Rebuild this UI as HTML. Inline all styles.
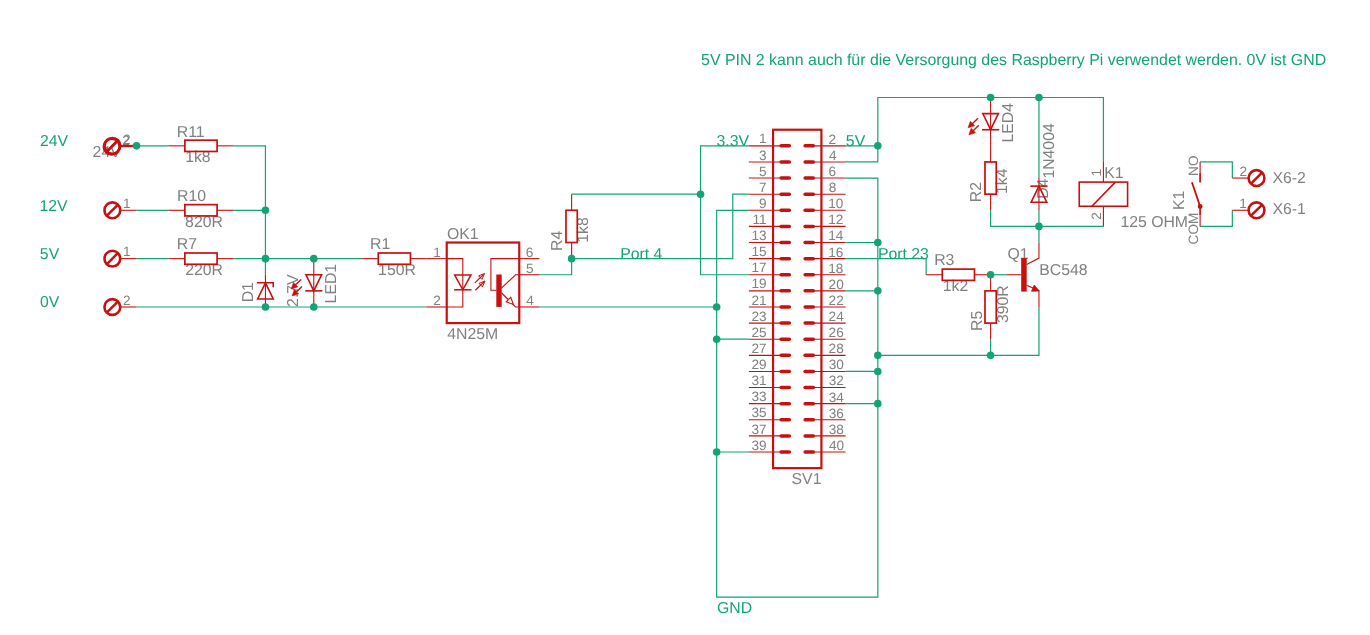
<!DOCTYPE html>
<html><head><meta charset="utf-8"><style>
html,body{margin:0;padding:0;background:#fff;width:1370px;height:635px;overflow:hidden}
text{text-rendering:geometricPrecision}
svg{will-change:transform}
svg{display:block;font-family:"Liberation Sans",sans-serif}
</style></head><body>
<svg width="1370" height="635" viewBox="0 0 1370 635">
<rect width="1370" height="635" fill="#fff"/>
<text x="122.92" y="143.8" font-size="13.6" fill="#808080">2</text>
<text x="122.32" y="144.6" font-size="13.6" fill="#808080">2</text>
<text x="123.06" y="208.1" font-size="13.6" fill="#808080">1</text>
<text x="123.06" y="256.3" font-size="13.6" fill="#808080">1</text>
<text x="122.92" y="304.6" font-size="13.6" fill="#808080">2</text>
<text x="1239.62" y="175.8" font-size="13.6" fill="#808080">2</text>
<text x="1239.26" y="207.9" font-size="13.6" fill="#808080">1</text>
<text x="176.8" y="136.5" font-size="15.8" fill="#808080">R11</text>
<text x="185.2" y="162" font-size="15.8" fill="#808080">1k8</text>
<text x="177" y="201.3" font-size="15.8" fill="#808080">R10</text>
<text x="185.11" y="226.9" font-size="15.8" fill="#808080">820R</text>
<text x="176.8" y="249.1" font-size="15.8" fill="#808080">R7</text>
<text x="185.21" y="274.8" font-size="15.8" fill="#808080">220R</text>
<text x="370.1" y="249.1" font-size="15.8" fill="#808080">R1</text>
<text x="378.1" y="274.6" font-size="15.8" fill="#808080">150R</text>
<text x="934.2" y="265.1" font-size="15.8" fill="#808080">R3</text>
<text x="942.8" y="290.6" font-size="15.8" fill="#808080">1k2</text>
<text x="562.2" y="250.9" font-size="15.8" fill="#808080" transform="rotate(-90 562.2 250.9)">R4</text>
<text x="588" y="242.7" font-size="15.8" fill="#808080" transform="rotate(-90 588 242.7)">1k8</text>
<text x="981.5" y="202.2" font-size="15.8" fill="#808080" transform="rotate(-90 981.5 202.2)">R2</text>
<text x="1007.3" y="194" font-size="15.8" fill="#808080" transform="rotate(-90 1007.3 194)">1k4</text>
<text x="981.7" y="330.9" font-size="15.8" fill="#808080" transform="rotate(-90 981.7 330.9)">R5</text>
<text x="1007.6" y="323" font-size="15.8" fill="#808080" transform="rotate(-90 1007.6 323)">390R</text>
<text x="253.5" y="302.3" font-size="15.8" fill="#808080" transform="rotate(-90 253.5 302.3)">D1</text>
<text x="297.7" y="306.89" font-size="15.8" fill="#808080" transform="rotate(-90 297.7 306.89)">2.7V</text>
<text x="336" y="303.4" font-size="15.8" fill="#808080" transform="rotate(-90 336 303.4)">LED1</text>
<text x="1013.5" y="142.6" font-size="15.8" fill="#808080" transform="rotate(-90 1013.5 142.6)">LED4</text>
<text x="1047.7" y="198.8" font-size="15.8" fill="#808080" transform="rotate(-90 1047.7 198.8)">D4</text>
<text x="1054.2" y="178.6" font-size="15.8" fill="#808080" transform="rotate(-90 1054.2 178.6)">1N4004</text>
<text x="446.95" y="238.9" font-size="15.8" fill="#808080">OK1</text>
<text x="447.34" y="339.3" font-size="15.8" fill="#808080">4N25M</text>
<text x="433.36" y="256.8" font-size="13.6" fill="#808080">1</text>
<text x="433.22" y="305" font-size="13.6" fill="#808080">2</text>
<text x="525.81" y="256.5" font-size="13.6" fill="#808080">6</text>
<text x="525.96" y="272.6" font-size="13.6" fill="#808080">5</text>
<text x="526.19" y="304.9" font-size="13.6" fill="#808080">4</text>
<text x="766.5" y="143.44" font-size="13.6" fill="#808080" text-anchor="end">1</text>
<text x="828.62" y="143.74" font-size="13.6" fill="#808080">2</text>
<text x="766.5" y="159.55" font-size="13.6" fill="#808080" text-anchor="end">3</text>
<text x="828.99" y="159.85" font-size="13.6" fill="#808080">4</text>
<text x="766.5" y="175.66" font-size="13.6" fill="#808080" text-anchor="end">5</text>
<text x="828.61" y="175.97" font-size="13.6" fill="#808080">6</text>
<text x="766.5" y="191.78" font-size="13.6" fill="#808080" text-anchor="end">7</text>
<text x="828.71" y="192.08" font-size="13.6" fill="#808080">8</text>
<text x="766.5" y="207.89" font-size="13.6" fill="#808080" text-anchor="end">9</text>
<text x="828.26" y="208.19" font-size="13.6" fill="#808080">10</text>
<text x="766.5" y="224.01" font-size="13.6" fill="#808080" text-anchor="end">11</text>
<text x="828.26" y="224.31" font-size="13.6" fill="#808080">12</text>
<text x="766.5" y="240.12" font-size="13.6" fill="#808080" text-anchor="end">13</text>
<text x="828.26" y="240.42" font-size="13.6" fill="#808080">14</text>
<text x="766.5" y="256.24" font-size="13.6" fill="#808080" text-anchor="end">15</text>
<text x="828.26" y="256.54" font-size="13.6" fill="#808080">16</text>
<text x="766.5" y="272.36" font-size="13.6" fill="#808080" text-anchor="end">17</text>
<text x="828.26" y="272.66" font-size="13.6" fill="#808080">18</text>
<text x="766.5" y="288.47" font-size="13.6" fill="#808080" text-anchor="end">19</text>
<text x="828.62" y="288.77" font-size="13.6" fill="#808080">20</text>
<text x="766.5" y="304.58" font-size="13.6" fill="#808080" text-anchor="end">21</text>
<text x="828.62" y="304.88" font-size="13.6" fill="#808080">22</text>
<text x="766.5" y="320.7" font-size="13.6" fill="#808080" text-anchor="end">23</text>
<text x="828.62" y="321" font-size="13.6" fill="#808080">24</text>
<text x="766.5" y="336.81" font-size="13.6" fill="#808080" text-anchor="end">25</text>
<text x="828.62" y="337.12" font-size="13.6" fill="#808080">26</text>
<text x="766.5" y="352.93" font-size="13.6" fill="#808080" text-anchor="end">27</text>
<text x="828.62" y="353.23" font-size="13.6" fill="#808080">28</text>
<text x="766.5" y="369.05" font-size="13.6" fill="#808080" text-anchor="end">29</text>
<text x="828.78" y="369.35" font-size="13.6" fill="#808080">30</text>
<text x="766.5" y="385.16" font-size="13.6" fill="#808080" text-anchor="end">31</text>
<text x="828.78" y="385.46" font-size="13.6" fill="#808080">32</text>
<text x="766.5" y="401.27" font-size="13.6" fill="#808080" text-anchor="end">33</text>
<text x="828.78" y="401.57" font-size="13.6" fill="#808080">34</text>
<text x="766.5" y="417.39" font-size="13.6" fill="#808080" text-anchor="end">35</text>
<text x="828.78" y="417.69" font-size="13.6" fill="#808080">36</text>
<text x="766.5" y="433.5" font-size="13.6" fill="#808080" text-anchor="end">37</text>
<text x="828.78" y="433.81" font-size="13.6" fill="#808080">38</text>
<text x="766.5" y="449.62" font-size="13.6" fill="#808080" text-anchor="end">39</text>
<text x="828.99" y="449.92" font-size="13.6" fill="#808080">40</text>
<text x="791.58" y="484.2" font-size="15.8" fill="#808080">SV1</text>
<text x="1007.55" y="259.3" font-size="15.8" fill="#808080">Q1</text>
<text x="1039.3" y="274.7" font-size="15.8" fill="#808080">BC548</text>
<text x="1104.2" y="178.1" font-size="15.8" fill="#808080">K1</text>
<text x="1120.4" y="226.9" font-size="15.8" fill="#808080">125 OHM</text>
<text x="1101.5" y="176.44" font-size="13.6" fill="#808080" transform="rotate(-90 1101.5 176.44)">1</text>
<text x="1101.5" y="219.68" font-size="13.6" fill="#808080" transform="rotate(-90 1101.5 219.68)">2</text>
<text x="1184.1" y="210.1" font-size="15.8" fill="#808080" transform="rotate(-90 1184.1 210.1)">K1</text>
<text x="1198.3" y="175.92" font-size="13.6" fill="#808080" transform="rotate(-90 1198.3 175.92)">NO</text>
<text x="1198.3" y="244.39" font-size="13.6" fill="#808080" transform="rotate(-90 1198.3 244.39)">COM</text>
<text x="1272.45" y="182.5" font-size="15.8" fill="#808080">X6-2</text>
<text x="1272.45" y="214.3" font-size="15.8" fill="#808080">X6-1</text>
<text x="39.91" y="145.9" font-size="15.8" fill="#12a571">24V</text>
<text x="39.5" y="210.7" font-size="15.8" fill="#12a571">12V</text>
<text x="39.87" y="258.8" font-size="15.8" fill="#12a571">5V</text>
<text x="40.08" y="306.9" font-size="15.8" fill="#12a571">0V</text>
<text x="92.61" y="157.1" font-size="15.8" fill="#808080">24V</text>
<text x="716.5" y="145.5" font-size="15.8" fill="#12a571">3.3V</text>
<text x="845.87" y="146" font-size="15.8" fill="#12a571">5V</text>
<text x="620.2" y="258.9" font-size="15.8" fill="#12a571">Port 4</text>
<text x="877.9" y="259.1" font-size="15.8" fill="#12a571">Port 23</text>
<text x="717.01" y="613.2" font-size="15.8" fill="#12a571">GND</text>
<text x="701.06" y="65.4" font-size="15.92" fill="#12a571">5V PIN 2 kann auch für die Versorgung des Raspberry Pi verwendet werden. 0V ist GND</text>
<polyline points="136.52,145.84 168.75,145.84" stroke="#12a571" stroke-width="1.2" fill="none" stroke-linejoin="miter"/>
<polyline points="233.21,145.84 265.44,145.84 265.44,274.75" stroke="#12a571" stroke-width="1.2" fill="none" stroke-linejoin="miter"/>
<polyline points="136.52,210.29 168.75,210.29" stroke="#12a571" stroke-width="1.2" fill="none" stroke-linejoin="miter"/>
<polyline points="233.21,210.29 265.44,210.29" stroke="#12a571" stroke-width="1.2" fill="none" stroke-linejoin="miter"/>
<polyline points="136.52,258.64 168.75,258.64" stroke="#12a571" stroke-width="1.2" fill="none" stroke-linejoin="miter"/>
<polyline points="233.21,258.64 362.13,258.64" stroke="#12a571" stroke-width="1.2" fill="none" stroke-linejoin="miter"/>
<polyline points="136.52,306.98 426.59,306.98" stroke="#12a571" stroke-width="1.2" fill="none" stroke-linejoin="miter"/>
<polyline points="539.39,274.75 571.62,274.75 571.62,258.64" stroke="#12a571" stroke-width="1.2" fill="none" stroke-linejoin="miter"/>
<polyline points="571.62,258.64 732.77,258.64 732.77,194.18 748.89,194.18" stroke="#12a571" stroke-width="1.2" fill="none" stroke-linejoin="miter"/>
<polyline points="571.62,194.18 700.54,194.18" stroke="#12a571" stroke-width="1.2" fill="none" stroke-linejoin="miter"/>
<polyline points="748.89,145.84 700.54,145.84 700.54,274.75 748.89,274.75" stroke="#12a571" stroke-width="1.2" fill="none" stroke-linejoin="miter"/>
<polyline points="748.89,210.29 716.66,210.29 716.66,597.05 877.81,597.05 877.81,178.06 845.58,178.06" stroke="#12a571" stroke-width="1.2" fill="none" stroke-linejoin="miter"/>
<polyline points="539.39,306.98 716.66,306.98" stroke="#12a571" stroke-width="1.2" fill="none" stroke-linejoin="miter"/>
<polyline points="716.66,339.21 748.89,339.21" stroke="#12a571" stroke-width="1.2" fill="none" stroke-linejoin="miter"/>
<polyline points="716.66,452.02 748.89,452.02" stroke="#12a571" stroke-width="1.2" fill="none" stroke-linejoin="miter"/>
<polyline points="845.58,145.84 877.81,145.84" stroke="#12a571" stroke-width="1.2" fill="none" stroke-linejoin="miter"/>
<polyline points="845.58,161.95 877.81,161.95 877.81,97.49 1103.42,97.49 1103.42,161.95" stroke="#12a571" stroke-width="1.2" fill="none" stroke-linejoin="miter"/>
<polyline points="845.58,242.52 877.81,242.52" stroke="#12a571" stroke-width="1.2" fill="none" stroke-linejoin="miter"/>
<polyline points="845.58,290.87 877.81,290.87" stroke="#12a571" stroke-width="1.2" fill="none" stroke-linejoin="miter"/>
<polyline points="845.58,371.44 877.81,371.44" stroke="#12a571" stroke-width="1.2" fill="none" stroke-linejoin="miter"/>
<polyline points="845.58,403.67 877.81,403.67" stroke="#12a571" stroke-width="1.2" fill="none" stroke-linejoin="miter"/>
<polyline points="877.81,355.33 1038.96,355.33 1038.96,306.98" stroke="#12a571" stroke-width="1.2" fill="none" stroke-linejoin="miter"/>
<polyline points="990.61,339.21 990.61,355.33" stroke="#12a571" stroke-width="1.2" fill="none" stroke-linejoin="miter"/>
<polyline points="845.58,258.64 926.15,258.64 926.15,274.75" stroke="#12a571" stroke-width="1.2" fill="none" stroke-linejoin="miter"/>
<polyline points="990.61,274.75 1006.73,274.75" stroke="#12a571" stroke-width="1.2" fill="none" stroke-linejoin="miter"/>
<polyline points="1038.96,242.52 1038.96,210.29" stroke="#12a571" stroke-width="1.2" fill="none" stroke-linejoin="miter"/>
<polyline points="990.61,210.29 990.61,226.41 1103.42,226.41" stroke="#12a571" stroke-width="1.2" fill="none" stroke-linejoin="miter"/>
<polyline points="1038.96,97.49 1038.96,178.06" stroke="#12a571" stroke-width="1.2" fill="none" stroke-linejoin="miter"/>
<polyline points="1200.11,161.95 1232.34,161.95 1232.34,178.06" stroke="#12a571" stroke-width="1.2" fill="none" stroke-linejoin="miter"/>
<polyline points="1200.11,226.41 1232.34,226.41 1232.34,210.29" stroke="#12a571" stroke-width="1.2" fill="none" stroke-linejoin="miter"/>
<line x1="120.25" y1="145.84" x2="136.52" y2="145.84" stroke="#c81010" stroke-width="2.0" stroke-linecap="butt"/>
<circle cx="112.35" cy="145.84" r="7.9" fill="none" stroke="#c81010" stroke-width="2.6"/>
<line x1="107.15" y1="151.03" x2="117.55" y2="140.64" stroke="#c81010" stroke-width="2.5" stroke-linecap="butt"/>
<line x1="119.65" y1="146.64" x2="136.52" y2="146.64" stroke="#c81010" stroke-width="1.1" stroke-linecap="butt"/>
<circle cx="111.75" cy="146.64" r="7.9" fill="none" stroke="#c81010" stroke-width="2.6"/>
<line x1="106.55" y1="151.84" x2="116.95" y2="141.44" stroke="#c81010" stroke-width="2.5" stroke-linecap="butt"/>
<line x1="120.25" y1="210.29" x2="136.52" y2="210.29" stroke="#c81010" stroke-width="1.1" stroke-linecap="butt"/>
<circle cx="112.35" cy="210.29" r="7.9" fill="none" stroke="#c81010" stroke-width="2.6"/>
<line x1="107.15" y1="215.49" x2="117.55" y2="205.09" stroke="#c81010" stroke-width="2.5" stroke-linecap="butt"/>
<line x1="120.25" y1="258.64" x2="136.52" y2="258.64" stroke="#c81010" stroke-width="1.1" stroke-linecap="butt"/>
<circle cx="112.35" cy="258.64" r="7.9" fill="none" stroke="#c81010" stroke-width="2.6"/>
<line x1="107.15" y1="263.84" x2="117.55" y2="253.44" stroke="#c81010" stroke-width="2.5" stroke-linecap="butt"/>
<line x1="120.25" y1="306.98" x2="136.52" y2="306.98" stroke="#c81010" stroke-width="1.1" stroke-linecap="butt"/>
<circle cx="112.35" cy="306.98" r="7.9" fill="none" stroke="#c81010" stroke-width="2.6"/>
<line x1="107.15" y1="312.18" x2="117.55" y2="301.78" stroke="#c81010" stroke-width="2.5" stroke-linecap="butt"/>
<line x1="1232.34" y1="178.06" x2="1248.61" y2="178.06" stroke="#c81010" stroke-width="1.1" stroke-linecap="butt"/>
<circle cx="1256.51" cy="178.06" r="7.9" fill="none" stroke="#c81010" stroke-width="2.6"/>
<line x1="1251.31" y1="183.26" x2="1261.71" y2="172.87" stroke="#c81010" stroke-width="2.5" stroke-linecap="butt"/>
<line x1="1232.34" y1="210.29" x2="1248.61" y2="210.29" stroke="#c81010" stroke-width="1.1" stroke-linecap="butt"/>
<circle cx="1256.51" cy="210.29" r="7.9" fill="none" stroke="#c81010" stroke-width="2.6"/>
<line x1="1251.31" y1="215.49" x2="1261.71" y2="205.09" stroke="#c81010" stroke-width="2.5" stroke-linecap="butt"/>
<line x1="168.75" y1="145.84" x2="184.86" y2="145.84" stroke="#c81010" stroke-width="1.1" stroke-linecap="butt"/>
<line x1="217.09" y1="145.84" x2="233.21" y2="145.84" stroke="#c81010" stroke-width="1.1" stroke-linecap="butt"/>
<rect x="184.86" y="140.19" width="32.23" height="11.28" fill="none" stroke="#c81010" stroke-width="1.7"/>
<line x1="168.75" y1="210.29" x2="184.86" y2="210.29" stroke="#c81010" stroke-width="1.1" stroke-linecap="butt"/>
<line x1="217.09" y1="210.29" x2="233.21" y2="210.29" stroke="#c81010" stroke-width="1.1" stroke-linecap="butt"/>
<rect x="184.86" y="204.65" width="32.23" height="11.28" fill="none" stroke="#c81010" stroke-width="1.7"/>
<line x1="168.75" y1="258.64" x2="184.86" y2="258.64" stroke="#c81010" stroke-width="1.1" stroke-linecap="butt"/>
<line x1="217.09" y1="258.64" x2="233.21" y2="258.64" stroke="#c81010" stroke-width="1.1" stroke-linecap="butt"/>
<rect x="184.86" y="253" width="32.23" height="11.28" fill="none" stroke="#c81010" stroke-width="1.7"/>
<line x1="362.13" y1="258.64" x2="378.25" y2="258.64" stroke="#c81010" stroke-width="1.1" stroke-linecap="butt"/>
<line x1="410.47" y1="258.64" x2="426.59" y2="258.64" stroke="#c81010" stroke-width="1.1" stroke-linecap="butt"/>
<rect x="378.25" y="253" width="32.23" height="11.28" fill="none" stroke="#c81010" stroke-width="1.7"/>
<line x1="926.15" y1="274.75" x2="942.27" y2="274.75" stroke="#c81010" stroke-width="1.1" stroke-linecap="butt"/>
<line x1="974.5" y1="274.75" x2="990.61" y2="274.75" stroke="#c81010" stroke-width="1.1" stroke-linecap="butt"/>
<rect x="942.27" y="269.11" width="32.23" height="11.28" fill="none" stroke="#c81010" stroke-width="1.7"/>
<line x1="571.62" y1="194.18" x2="571.62" y2="210.29" stroke="#c81010" stroke-width="1.1" stroke-linecap="butt"/>
<line x1="571.62" y1="242.52" x2="571.62" y2="258.64" stroke="#c81010" stroke-width="1.1" stroke-linecap="butt"/>
<rect x="565.98" y="210.29" width="11.28" height="32.23" fill="none" stroke="#c81010" stroke-width="1.7"/>
<line x1="990.61" y1="145.84" x2="990.61" y2="161.95" stroke="#c81010" stroke-width="1.1" stroke-linecap="butt"/>
<line x1="990.61" y1="194.18" x2="990.61" y2="210.29" stroke="#c81010" stroke-width="1.1" stroke-linecap="butt"/>
<rect x="984.97" y="161.95" width="11.28" height="32.23" fill="none" stroke="#c81010" stroke-width="1.7"/>
<line x1="990.61" y1="274.75" x2="990.61" y2="290.87" stroke="#c81010" stroke-width="1.1" stroke-linecap="butt"/>
<line x1="990.61" y1="323.1" x2="990.61" y2="339.21" stroke="#c81010" stroke-width="1.1" stroke-linecap="butt"/>
<rect x="984.97" y="290.87" width="11.28" height="32.23" fill="none" stroke="#c81010" stroke-width="1.7"/>
<line x1="265.44" y1="274.75" x2="265.44" y2="306.98" stroke="#c81010" stroke-width="1.1" stroke-linecap="butt"/>
<polygon points="257.64,298.93 273.24,298.93 265.44,282.81" stroke="#c81010" stroke-width="1.6" fill="none" stroke-linejoin="miter"/>
<polyline points="256.84,282.81 273.24,282.81 273.24,287.31" stroke="#c81010" stroke-width="1.6" fill="none" stroke-linejoin="miter"/>
<line x1="313.78" y1="258.64" x2="313.78" y2="306.98" stroke="#c81010" stroke-width="1.1" stroke-linecap="butt"/>
<polygon points="305.98,274.75 321.58,274.75 313.78,290.87" stroke="#c81010" stroke-width="1.6" fill="none" stroke-linejoin="miter"/>
<line x1="305.18" y1="290.87" x2="322.38" y2="290.87" stroke="#c81010" stroke-width="1.6" stroke-linecap="butt"/>
<line x1="301.18" y1="279.41" x2="294.95" y2="285.33" stroke="#c81010" stroke-width="1.4" stroke-linecap="butt"/>
<polygon points="291.18,288.91 293.54,282.39 297.82,286.89" stroke="#c81010" stroke-width="0.6" fill="#c81010" stroke-linejoin="miter"/>
<line x1="301.98" y1="286.41" x2="295.82" y2="292.39" stroke="#c81010" stroke-width="1.4" stroke-linecap="butt"/>
<polygon points="292.08,296.01 294.38,289.47 298.69,293.92" stroke="#c81010" stroke-width="0.6" fill="#c81010" stroke-linejoin="miter"/>
<line x1="990.61" y1="97.49" x2="990.61" y2="145.84" stroke="#c81010" stroke-width="1.1" stroke-linecap="butt"/>
<polygon points="982.81,113.6 998.41,113.6 990.61,129.72" stroke="#c81010" stroke-width="1.6" fill="none" stroke-linejoin="miter"/>
<line x1="982.01" y1="129.72" x2="999.21" y2="129.72" stroke="#c81010" stroke-width="1.6" stroke-linecap="butt"/>
<line x1="978.01" y1="118.26" x2="971.78" y2="124.18" stroke="#c81010" stroke-width="1.4" stroke-linecap="butt"/>
<polygon points="968.01,127.76 970.37,121.24 974.65,125.74" stroke="#c81010" stroke-width="0.6" fill="#c81010" stroke-linejoin="miter"/>
<line x1="978.81" y1="125.26" x2="972.65" y2="131.24" stroke="#c81010" stroke-width="1.4" stroke-linecap="butt"/>
<polygon points="968.91,134.86 971.21,128.32 975.52,132.77" stroke="#c81010" stroke-width="0.6" fill="#c81010" stroke-linejoin="miter"/>
<line x1="1038.96" y1="178.06" x2="1038.96" y2="210.29" stroke="#c81010" stroke-width="1.1" stroke-linecap="butt"/>
<polygon points="1031.16,202.24 1046.76,202.24 1038.96,186.12" stroke="#c81010" stroke-width="1.6" fill="none" stroke-linejoin="miter"/>
<line x1="1030.36" y1="186.12" x2="1047.56" y2="186.12" stroke="#c81010" stroke-width="1.6" stroke-linecap="butt"/>
<line x1="426.59" y1="258.64" x2="446.73" y2="258.64" stroke="#c81010" stroke-width="1.1" stroke-linecap="butt"/>
<line x1="426.59" y1="306.98" x2="446.73" y2="306.98" stroke="#c81010" stroke-width="1.1" stroke-linecap="butt"/>
<line x1="519.25" y1="258.64" x2="539.39" y2="258.64" stroke="#c81010" stroke-width="1.1" stroke-linecap="butt"/>
<line x1="519.25" y1="274.75" x2="539.39" y2="274.75" stroke="#c81010" stroke-width="1.1" stroke-linecap="butt"/>
<line x1="519.25" y1="306.98" x2="539.39" y2="306.98" stroke="#c81010" stroke-width="1.1" stroke-linecap="butt"/>
<rect x="446.73" y="242.52" width="72.52" height="80.57" fill="none" stroke="#c81010" stroke-width="2.2"/>
<polyline points="446.73,258.64 462.8,258.64 462.8,306.98 446.73,306.98" stroke="#c81010" stroke-width="1.1" fill="none" stroke-linejoin="miter"/>
<polygon points="454.6,274.9 471,274.9 462.8,289.8" stroke="#c81010" stroke-width="1.5" fill="none" stroke-linejoin="miter"/>
<line x1="454.1" y1="289.8" x2="471.5" y2="289.8" stroke="#c81010" stroke-width="1.5" stroke-linecap="butt"/>
<line x1="474.9" y1="282.9" x2="483.53" y2="274.45" stroke="#c81010" stroke-width="1.2" stroke-linecap="butt"/>
<polygon points="484.6,273.4 481.99,279.31 478.63,275.88" stroke="#c81010" stroke-width="1.0" fill="none" stroke-linejoin="miter"/>
<line x1="475.3" y1="290.3" x2="483.92" y2="282.04" stroke="#c81010" stroke-width="1.2" stroke-linecap="butt"/>
<polygon points="485,281 482.33,286.88 479.01,283.42" stroke="#c81010" stroke-width="1.0" fill="none" stroke-linejoin="miter"/>
<rect x="496.3" y="274.5" width="5.4" height="32.4" fill="#c81010"/>
<polyline points="519.25,258.64 490.9,258.64 490.9,290.3 496.3,290.3" stroke="#c81010" stroke-width="1.1" fill="none" stroke-linejoin="miter"/>
<polyline points="501.7,287.9 515.6,274.75 519.25,274.75" stroke="#c81010" stroke-width="1.1" fill="none" stroke-linejoin="miter"/>
<polyline points="501.7,293 515.6,306.98 519.25,306.98" stroke="#c81010" stroke-width="1.1" fill="none" stroke-linejoin="miter"/>
<polygon points="513.4,304.5 506.2,301.79 510.73,297.28" stroke="#c81010" stroke-width="1.1" fill="#fff" stroke-linejoin="miter"/>
<line x1="748.89" y1="145.84" x2="781.48" y2="145.84" stroke="#c81010" stroke-width="1.1" stroke-linecap="butt"/>
<line x1="812.98" y1="145.84" x2="845.58" y2="145.84" stroke="#c81010" stroke-width="1.1" stroke-linecap="butt"/>
<line x1="781.13" y1="145.84" x2="789.33" y2="145.84" stroke="#c81010" stroke-width="3.5" stroke-linecap="round"/>
<line x1="805.13" y1="145.84" x2="813.33" y2="145.84" stroke="#c81010" stroke-width="3.5" stroke-linecap="round"/>
<line x1="748.89" y1="161.95" x2="781.48" y2="161.95" stroke="#c81010" stroke-width="1.1" stroke-linecap="butt"/>
<line x1="812.98" y1="161.95" x2="845.58" y2="161.95" stroke="#c81010" stroke-width="1.1" stroke-linecap="butt"/>
<line x1="781.13" y1="161.95" x2="789.33" y2="161.95" stroke="#c81010" stroke-width="3.5" stroke-linecap="round"/>
<line x1="805.13" y1="161.95" x2="813.33" y2="161.95" stroke="#c81010" stroke-width="3.5" stroke-linecap="round"/>
<line x1="748.89" y1="178.06" x2="781.48" y2="178.06" stroke="#c81010" stroke-width="1.1" stroke-linecap="butt"/>
<line x1="812.98" y1="178.06" x2="845.58" y2="178.06" stroke="#c81010" stroke-width="1.1" stroke-linecap="butt"/>
<line x1="781.13" y1="178.06" x2="789.33" y2="178.06" stroke="#c81010" stroke-width="3.5" stroke-linecap="round"/>
<line x1="805.13" y1="178.06" x2="813.33" y2="178.06" stroke="#c81010" stroke-width="3.5" stroke-linecap="round"/>
<line x1="748.89" y1="194.18" x2="781.48" y2="194.18" stroke="#c81010" stroke-width="1.1" stroke-linecap="butt"/>
<line x1="812.98" y1="194.18" x2="845.58" y2="194.18" stroke="#c81010" stroke-width="1.1" stroke-linecap="butt"/>
<line x1="781.13" y1="194.18" x2="789.33" y2="194.18" stroke="#c81010" stroke-width="3.5" stroke-linecap="round"/>
<line x1="805.13" y1="194.18" x2="813.33" y2="194.18" stroke="#c81010" stroke-width="3.5" stroke-linecap="round"/>
<line x1="748.89" y1="210.29" x2="781.48" y2="210.29" stroke="#c81010" stroke-width="1.1" stroke-linecap="butt"/>
<line x1="812.98" y1="210.29" x2="845.58" y2="210.29" stroke="#c81010" stroke-width="1.1" stroke-linecap="butt"/>
<line x1="781.13" y1="210.29" x2="789.33" y2="210.29" stroke="#c81010" stroke-width="3.5" stroke-linecap="round"/>
<line x1="805.13" y1="210.29" x2="813.33" y2="210.29" stroke="#c81010" stroke-width="3.5" stroke-linecap="round"/>
<line x1="748.89" y1="226.41" x2="781.48" y2="226.41" stroke="#c81010" stroke-width="1.1" stroke-linecap="butt"/>
<line x1="812.98" y1="226.41" x2="845.58" y2="226.41" stroke="#c81010" stroke-width="1.1" stroke-linecap="butt"/>
<line x1="781.13" y1="226.41" x2="789.33" y2="226.41" stroke="#c81010" stroke-width="3.5" stroke-linecap="round"/>
<line x1="805.13" y1="226.41" x2="813.33" y2="226.41" stroke="#c81010" stroke-width="3.5" stroke-linecap="round"/>
<line x1="748.89" y1="242.52" x2="781.48" y2="242.52" stroke="#c81010" stroke-width="1.1" stroke-linecap="butt"/>
<line x1="812.98" y1="242.52" x2="845.58" y2="242.52" stroke="#c81010" stroke-width="1.1" stroke-linecap="butt"/>
<line x1="781.13" y1="242.52" x2="789.33" y2="242.52" stroke="#c81010" stroke-width="3.5" stroke-linecap="round"/>
<line x1="805.13" y1="242.52" x2="813.33" y2="242.52" stroke="#c81010" stroke-width="3.5" stroke-linecap="round"/>
<line x1="748.89" y1="258.64" x2="781.48" y2="258.64" stroke="#c81010" stroke-width="1.1" stroke-linecap="butt"/>
<line x1="812.98" y1="258.64" x2="845.58" y2="258.64" stroke="#c81010" stroke-width="1.1" stroke-linecap="butt"/>
<line x1="781.13" y1="258.64" x2="789.33" y2="258.64" stroke="#c81010" stroke-width="3.5" stroke-linecap="round"/>
<line x1="805.13" y1="258.64" x2="813.33" y2="258.64" stroke="#c81010" stroke-width="3.5" stroke-linecap="round"/>
<line x1="748.89" y1="274.75" x2="781.48" y2="274.75" stroke="#c81010" stroke-width="1.1" stroke-linecap="butt"/>
<line x1="812.98" y1="274.75" x2="845.58" y2="274.75" stroke="#c81010" stroke-width="1.1" stroke-linecap="butt"/>
<line x1="781.13" y1="274.75" x2="789.33" y2="274.75" stroke="#c81010" stroke-width="3.5" stroke-linecap="round"/>
<line x1="805.13" y1="274.75" x2="813.33" y2="274.75" stroke="#c81010" stroke-width="3.5" stroke-linecap="round"/>
<line x1="748.89" y1="290.87" x2="781.48" y2="290.87" stroke="#c81010" stroke-width="1.1" stroke-linecap="butt"/>
<line x1="812.98" y1="290.87" x2="845.58" y2="290.87" stroke="#c81010" stroke-width="1.1" stroke-linecap="butt"/>
<line x1="781.13" y1="290.87" x2="789.33" y2="290.87" stroke="#c81010" stroke-width="3.5" stroke-linecap="round"/>
<line x1="805.13" y1="290.87" x2="813.33" y2="290.87" stroke="#c81010" stroke-width="3.5" stroke-linecap="round"/>
<line x1="748.89" y1="306.98" x2="781.48" y2="306.98" stroke="#c81010" stroke-width="1.1" stroke-linecap="butt"/>
<line x1="812.98" y1="306.98" x2="845.58" y2="306.98" stroke="#c81010" stroke-width="1.1" stroke-linecap="butt"/>
<line x1="781.13" y1="306.98" x2="789.33" y2="306.98" stroke="#c81010" stroke-width="3.5" stroke-linecap="round"/>
<line x1="805.13" y1="306.98" x2="813.33" y2="306.98" stroke="#c81010" stroke-width="3.5" stroke-linecap="round"/>
<line x1="748.89" y1="323.1" x2="781.48" y2="323.1" stroke="#c81010" stroke-width="1.1" stroke-linecap="butt"/>
<line x1="812.98" y1="323.1" x2="845.58" y2="323.1" stroke="#c81010" stroke-width="1.1" stroke-linecap="butt"/>
<line x1="781.13" y1="323.1" x2="789.33" y2="323.1" stroke="#c81010" stroke-width="3.5" stroke-linecap="round"/>
<line x1="805.13" y1="323.1" x2="813.33" y2="323.1" stroke="#c81010" stroke-width="3.5" stroke-linecap="round"/>
<line x1="748.89" y1="339.21" x2="781.48" y2="339.21" stroke="#c81010" stroke-width="1.1" stroke-linecap="butt"/>
<line x1="812.98" y1="339.21" x2="845.58" y2="339.21" stroke="#c81010" stroke-width="1.1" stroke-linecap="butt"/>
<line x1="781.13" y1="339.21" x2="789.33" y2="339.21" stroke="#c81010" stroke-width="3.5" stroke-linecap="round"/>
<line x1="805.13" y1="339.21" x2="813.33" y2="339.21" stroke="#c81010" stroke-width="3.5" stroke-linecap="round"/>
<line x1="748.89" y1="355.33" x2="781.48" y2="355.33" stroke="#c81010" stroke-width="1.1" stroke-linecap="butt"/>
<line x1="812.98" y1="355.33" x2="845.58" y2="355.33" stroke="#c81010" stroke-width="1.1" stroke-linecap="butt"/>
<line x1="781.13" y1="355.33" x2="789.33" y2="355.33" stroke="#c81010" stroke-width="3.5" stroke-linecap="round"/>
<line x1="805.13" y1="355.33" x2="813.33" y2="355.33" stroke="#c81010" stroke-width="3.5" stroke-linecap="round"/>
<line x1="748.89" y1="371.44" x2="781.48" y2="371.44" stroke="#c81010" stroke-width="1.1" stroke-linecap="butt"/>
<line x1="812.98" y1="371.44" x2="845.58" y2="371.44" stroke="#c81010" stroke-width="1.1" stroke-linecap="butt"/>
<line x1="781.13" y1="371.44" x2="789.33" y2="371.44" stroke="#c81010" stroke-width="3.5" stroke-linecap="round"/>
<line x1="805.13" y1="371.44" x2="813.33" y2="371.44" stroke="#c81010" stroke-width="3.5" stroke-linecap="round"/>
<line x1="748.89" y1="387.56" x2="781.48" y2="387.56" stroke="#c81010" stroke-width="1.1" stroke-linecap="butt"/>
<line x1="812.98" y1="387.56" x2="845.58" y2="387.56" stroke="#c81010" stroke-width="1.1" stroke-linecap="butt"/>
<line x1="781.13" y1="387.56" x2="789.33" y2="387.56" stroke="#c81010" stroke-width="3.5" stroke-linecap="round"/>
<line x1="805.13" y1="387.56" x2="813.33" y2="387.56" stroke="#c81010" stroke-width="3.5" stroke-linecap="round"/>
<line x1="748.89" y1="403.67" x2="781.48" y2="403.67" stroke="#c81010" stroke-width="1.1" stroke-linecap="butt"/>
<line x1="812.98" y1="403.67" x2="845.58" y2="403.67" stroke="#c81010" stroke-width="1.1" stroke-linecap="butt"/>
<line x1="781.13" y1="403.67" x2="789.33" y2="403.67" stroke="#c81010" stroke-width="3.5" stroke-linecap="round"/>
<line x1="805.13" y1="403.67" x2="813.33" y2="403.67" stroke="#c81010" stroke-width="3.5" stroke-linecap="round"/>
<line x1="748.89" y1="419.79" x2="781.48" y2="419.79" stroke="#c81010" stroke-width="1.1" stroke-linecap="butt"/>
<line x1="812.98" y1="419.79" x2="845.58" y2="419.79" stroke="#c81010" stroke-width="1.1" stroke-linecap="butt"/>
<line x1="781.13" y1="419.79" x2="789.33" y2="419.79" stroke="#c81010" stroke-width="3.5" stroke-linecap="round"/>
<line x1="805.13" y1="419.79" x2="813.33" y2="419.79" stroke="#c81010" stroke-width="3.5" stroke-linecap="round"/>
<line x1="748.89" y1="435.9" x2="781.48" y2="435.9" stroke="#c81010" stroke-width="1.1" stroke-linecap="butt"/>
<line x1="812.98" y1="435.9" x2="845.58" y2="435.9" stroke="#c81010" stroke-width="1.1" stroke-linecap="butt"/>
<line x1="781.13" y1="435.9" x2="789.33" y2="435.9" stroke="#c81010" stroke-width="3.5" stroke-linecap="round"/>
<line x1="805.13" y1="435.9" x2="813.33" y2="435.9" stroke="#c81010" stroke-width="3.5" stroke-linecap="round"/>
<line x1="748.89" y1="452.02" x2="781.48" y2="452.02" stroke="#c81010" stroke-width="1.1" stroke-linecap="butt"/>
<line x1="812.98" y1="452.02" x2="845.58" y2="452.02" stroke="#c81010" stroke-width="1.1" stroke-linecap="butt"/>
<line x1="781.13" y1="452.02" x2="789.33" y2="452.02" stroke="#c81010" stroke-width="3.5" stroke-linecap="round"/>
<line x1="805.13" y1="452.02" x2="813.33" y2="452.02" stroke="#c81010" stroke-width="3.5" stroke-linecap="round"/>
<rect x="773.06" y="129.72" width="48.34" height="338.41" fill="none" stroke="#c81010" stroke-width="2.2"/>
<line x1="1006.73" y1="274.75" x2="1021.2" y2="274.75" stroke="#c81010" stroke-width="1.1" stroke-linecap="butt"/>
<rect x="1021.2" y="258.1" width="5.5" height="33.5" fill="#c81010"/>
<polyline points="1026.7,264.4 1038.96,258.1 1038.96,242.52" stroke="#c81010" stroke-width="1.1" fill="none" stroke-linejoin="miter"/>
<polyline points="1026.7,285.3 1038.96,290.7 1038.96,306.98" stroke="#c81010" stroke-width="1.1" fill="none" stroke-linejoin="miter"/>
<polygon points="1039.26,291 1031.48,291.29 1034.22,285.07" stroke="#c81010" stroke-width="0.8" fill="#c81010" stroke-linejoin="miter"/>
<line x1="1103.42" y1="161.95" x2="1103.42" y2="182.09" stroke="#c81010" stroke-width="1.1" stroke-linecap="butt"/>
<line x1="1103.42" y1="206.27" x2="1103.42" y2="226.41" stroke="#c81010" stroke-width="1.1" stroke-linecap="butt"/>
<rect x="1079.25" y="182.09" width="48.34" height="24.17" fill="none" stroke="#c81010" stroke-width="1.6"/>
<line x1="1091.9" y1="206.27" x2="1115.4" y2="182.09" stroke="#c81010" stroke-width="1.6" stroke-linecap="butt"/>
<line x1="1200.11" y1="161.95" x2="1200.11" y2="172.7" stroke="#c81010" stroke-width="1.1" stroke-linecap="butt"/>
<line x1="1200.11" y1="172.7" x2="1200.11" y2="182.6" stroke="#c81010" stroke-width="1.7" stroke-linecap="butt"/>
<line x1="1191.9" y1="182.3" x2="1200.11" y2="206.4" stroke="#c81010" stroke-width="1.8" stroke-linecap="butt"/>
<circle cx="1200.11" cy="206.4" r="2.4" fill="#c81010"/>
<line x1="1200.11" y1="206.4" x2="1200.11" y2="215.2" stroke="#c81010" stroke-width="1.7" stroke-linecap="butt"/>
<line x1="1200.11" y1="215.2" x2="1200.11" y2="226.41" stroke="#c81010" stroke-width="1.1" stroke-linecap="butt"/>
<circle cx="136.52" cy="145.84" r="3.8" fill="#12a571"/>
<circle cx="265.44" cy="210.29" r="3.8" fill="#12a571"/>
<circle cx="265.44" cy="258.64" r="3.8" fill="#12a571"/>
<circle cx="313.78" cy="258.64" r="3.8" fill="#12a571"/>
<circle cx="265.44" cy="306.98" r="3.8" fill="#12a571"/>
<circle cx="313.78" cy="306.98" r="3.8" fill="#12a571"/>
<circle cx="571.62" cy="258.64" r="3.8" fill="#12a571"/>
<circle cx="700.54" cy="194.18" r="3.8" fill="#12a571"/>
<circle cx="716.66" cy="306.98" r="3.8" fill="#12a571"/>
<circle cx="716.66" cy="339.21" r="3.8" fill="#12a571"/>
<circle cx="716.66" cy="452.02" r="3.8" fill="#12a571"/>
<circle cx="877.81" cy="145.84" r="3.8" fill="#12a571"/>
<circle cx="990.61" cy="97.49" r="3.8" fill="#12a571"/>
<circle cx="1038.96" cy="97.49" r="3.8" fill="#12a571"/>
<circle cx="877.81" cy="242.52" r="3.8" fill="#12a571"/>
<circle cx="877.81" cy="290.87" r="3.8" fill="#12a571"/>
<circle cx="877.81" cy="355.33" r="3.8" fill="#12a571"/>
<circle cx="877.81" cy="371.44" r="3.8" fill="#12a571"/>
<circle cx="877.81" cy="403.67" r="3.8" fill="#12a571"/>
<circle cx="990.61" cy="274.75" r="3.8" fill="#12a571"/>
<circle cx="990.61" cy="355.33" r="3.8" fill="#12a571"/>
<circle cx="1038.96" cy="226.41" r="3.8" fill="#12a571"/>
</svg>
</body></html>
